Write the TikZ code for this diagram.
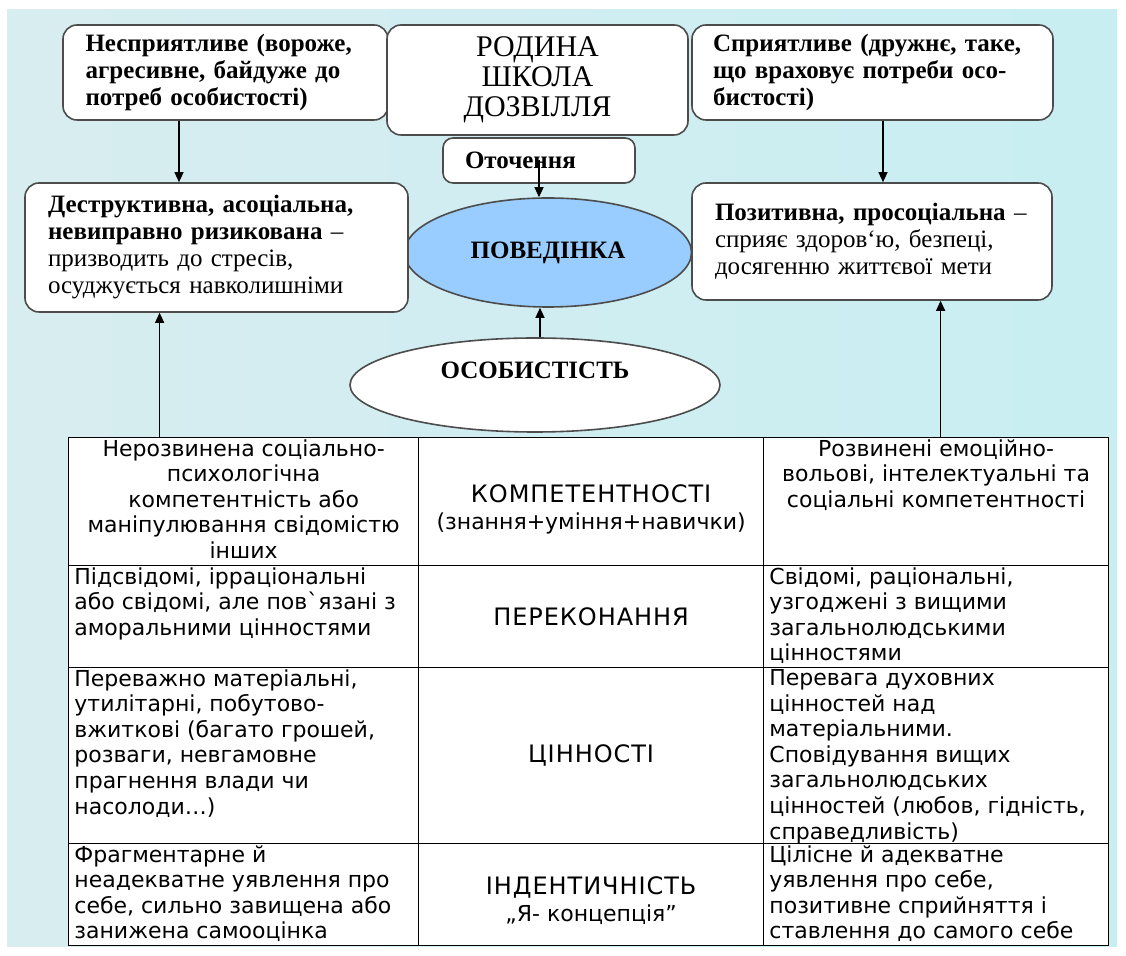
\documentclass[tikz,border=0pt]{standalone}
\usepackage{fontspec}
\setmainfont{Liberation Serif}
\newfontfamily\tabfont{DejaVu Sans}
\newfontfamily\capfont[LetterSpace=4]{DejaVu Sans}
\usetikzlibrary{shapes.geometric,arrows.meta}

\definecolor{bgleft}{RGB}{216,237,240}
\definecolor{bgright}{RGB}{200,238,242}
\definecolor{behavblue}{RGB}{153,204,255}

\tikzset{
  rbox/.style={draw=black!70, line width=0.8pt, fill=white, rounded corners=7pt, inner sep=0pt},
  oval/.style={ellipse, draw=black!70, line width=0.8pt, inner sep=0pt, font=\fontsize{12.5}{14}\selectfont\bfseries},
  cell/.style={draw, line width=0.6pt, fill=white, inner sep=0pt, anchor=north west},
  celltext/.style={inner xsep=3pt, inner ysep=1pt, font=\tabfont\fontsize{11}{12.8}\selectfont},
  captext/.style={inner sep=1pt, align=center, font=\fontsize{11}{13.6}\selectfont},
  arr/.style={-{Triangle[length=5pt,width=4.5pt]}, line width=0.6pt},
}

\begin{document}
\begin{tikzpicture}[x=0.5pt,y=-0.5pt]
\useasboundingbox (0,0) rectangle (1126,956);
\fill[left color=bgleft, right color=bgright] (7,10) rectangle (1117,947);

% environment
\node[rbox, minimum width=162.5pt, minimum height=47.5pt, text width=140pt, align=left,
  font=\fontsize{12.5}{13.5}\selectfont\bfseries] (negenv) at (225.5,72.5)
  {Несприятливе (вороже,\\агресивне, байдуже до\\потреб особистості)};
\node[rbox, minimum width=150.5pt, minimum height=55pt, align=center,
  font=\fontsize{15}{15}\selectfont] (family) at (537.5,80)
  {РОДИНА\\ШКОЛА\\ДОЗВІЛЛЯ};
\node[rbox, minimum width=180.5pt, minimum height=47.5pt, text width=159.5pt, align=left,
  font=\fontsize{12.5}{13.5}\selectfont\bfseries] (posenv) at (872.5,72.5)
  {Сприятливе (дружнє, таке,\\що враховує потреби осо-\\бистості)};
\node[rbox, rounded corners=5pt, minimum width=96pt, minimum height=22.5pt, text width=74pt, align=left,
  font=\fontsize{12.5}{14}\selectfont\bfseries] (otoch) at (539,160.5) {Оточення};

% behaviour
\node[oval, fill=behavblue, minimum width=143.5pt, minimum height=54.5pt] (behav) at (548,252.5) {ПОВЕДІНКА};
\node[rbox, minimum width=191.5pt, minimum height=64.5pt, text width=168.5pt, align=left,
  font=\fontsize{12.5}{13.5}\selectfont] (destr) at (216.5,247.5)
  {\textbf{Деструктивна, асоціальна,}\\\textbf{невиправно ризикована} –\\призводить до стресів,\\осуджується навколишніми};
\node[rbox, minimum width=180pt, minimum height=58.5pt, text width=157pt, align=left,
  font=\fontsize{12.5}{13.5}\selectfont] (posit) at (872,241.5)
  {\textbf{Позитивна, просоціальна} –\\сприяє здоров‘ю, безпеці,\\досягенню життєвої мети};
\node[oval, fill=white, minimum width=185pt, minimum height=47pt, text depth=15pt] (pers) at (535,385) {ОСОБИСТІСТЬ};

% table
\node[cell, minimum width=175pt, minimum height=64pt] (komp1) at (68,437) {};
\node[cell, minimum width=172.5pt, minimum height=64pt] (komp2) at (418,437) {};
\node[cell, minimum width=172.5pt, minimum height=64pt] (komp3) at (763,437) {};
\node[cell, minimum width=175pt, minimum height=51pt] (perek1) at (68,565) {};
\node[cell, minimum width=172.5pt, minimum height=51pt] (perek2) at (418,565) {};
\node[cell, minimum width=172.5pt, minimum height=51pt] (perek3) at (763,565) {};
\node[cell, minimum width=175pt, minimum height=88pt] (cinn1) at (68,667) {};
\node[cell, minimum width=172.5pt, minimum height=88pt] (cinn2) at (418,667) {};
\node[cell, minimum width=172.5pt, minimum height=88pt] (cinn3) at (763,667) {};
\node[cell, minimum width=175pt, minimum height=51pt] (ident1) at (68,843) {};
\node[cell, minimum width=172.5pt, minimum height=51pt] (ident2) at (418,843) {};
\node[cell, minimum width=172.5pt, minimum height=51pt] (ident3) at (763,843) {};

\node[celltext, anchor=north, align=center] (komp1t) at (komp1.north)
  {Нерозвинена соціально-\\психологічна\\компетентність або\\маніпулювання свідомістю\\інших};
\node[captext, yshift=-4pt] (komp2t) at (komp2.center)
  {{\capfont\fontsize{12}{13.6}\selectfont КОМПЕТЕНТНОСТІ}\\{\tabfont (знання+уміння+навички)}};
\node[celltext, anchor=north, align=center] (komp3t) at (komp3.north)
  {Розвинені емоційно-\\вольові, інтелектуальні та\\соціальні компетентності};
\node[celltext, anchor=north west, align=left] (perek1t) at (perek1.north west)
  {Підсвідомі, ірраціональні\\або свідомі, але пов`язані з\\аморальними цінностями};
\node[captext] (perek2t) at (perek2.center) {\capfont\fontsize{12}{13.6}\selectfont ПЕРЕКОНАННЯ};
\node[celltext, anchor=north west, align=left] (perek3t) at (perek3.north west)
  {Свідомі, раціональні,\\узгоджені з вищими\\загальнолюдськими\\цінностями};
\node[celltext, anchor=north west, align=left] (cinn1t) at (cinn1.north west)
  {Переважно матеріальні,\\утилітарні, побутово-\\вжиткові (багато грошей,\\розваги, невгамовне\\прагнення влади чи\\насолоди…)};
\node[captext] (cinn2t) at (cinn2.center) {\capfont\fontsize{12}{13.6}\selectfont ЦІННОСТІ};
\node[celltext, anchor=north west, align=left] (cinn3t) at (cinn3.north west)
  {Перевага духовних\\цінностей над\\матеріальними.\\Сповідування вищих\\загальнолюдських\\цінностей (любов, гідність,\\справедливість)};
\node[celltext, anchor=north west, align=left] (ident1t) at (ident1.north west)
  {Фрагментарне й\\неадекватне уявлення про\\себе, сильно завищена або\\занижена самооцінка};
\node[captext, yshift=-3pt] (ident2t) at (ident2.center)
  {{\capfont\fontsize{12}{13.6}\selectfont ІНДЕНТИЧНІСТЬ}\\{\tabfont „Я- концепція”}};
\node[celltext, anchor=north west, align=left] (ident3t) at (ident3.north west)
  {Цілісне й адекватне\\уявлення про себе,\\позитивне сприйняття і\\ставлення до самого себе};

% arrows
\draw[arr] ([xshift=-23.25pt]negenv.south) -- ([xshift=-23.25pt]negenv.south |- destr.north);
\draw[arr] ([xshift=5.25pt]posenv.south) -- ([xshift=5.25pt]posenv.south |- posit.north);
\draw[arr] (otoch.center) -- (otoch.center |- behav.north);
\draw[arr] ([xshift=2.5pt]pers.north) -- ([xshift=2.5pt]pers.north |- behav.south);
\draw[arr] ([xshift=-42pt]komp1.north) -- ([xshift=-42pt]komp1.north |- destr.south);
\draw[arr] ([xshift=2.25pt]komp3.north) -- ([xshift=2.25pt]komp3.north |- posit.south);
\end{tikzpicture}
\end{document}
